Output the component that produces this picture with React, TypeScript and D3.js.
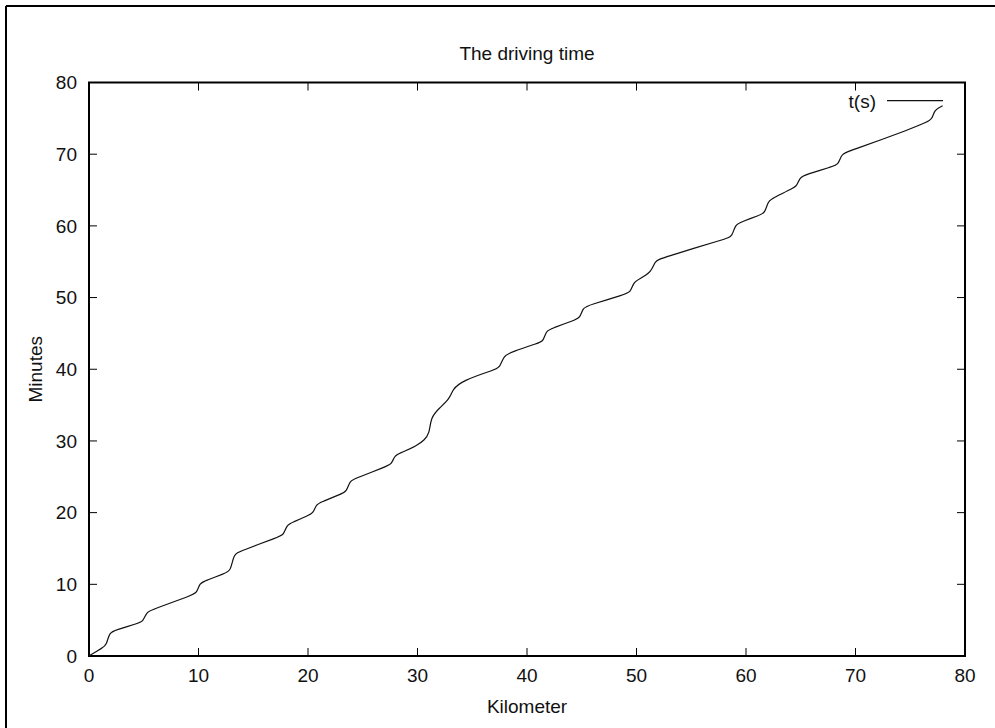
import React from "react";
import * as d3 from "d3";

const KILOMETERS = [
  0, 0, 1.25, 1.6, 1.85, 2.45, 4.4, 4.95, 5.25, 5.85, 9.3, 9.85, 10.1, 10.7, 12.4,
  12.95, 13.2, 13.8, 17.25, 17.8, 18.05, 18.6, 20.0, 20.5, 20.75, 21.3, 23.0,
  23.55, 23.8, 24.4, 27.1, 27.65, 27.9, 28.5, 30.0, 30.6, 31.1, 31.2, 32.0,
  32.95, 33.2, 34.1, 36.9, 37.55, 37.85, 38.6, 41.0, 41.5, 41.75, 42.3, 44.3,
  44.85, 45.1, 45.7, 48.9, 49.45, 49.7, 50.3, 51.4, 51.65, 52.3, 58.2, 58.75,
  59.0, 59.6, 61.2, 61.75, 62.0, 62.6, 64.1, 64.65, 64.9, 65.5, 67.9, 68.45,
  68.7, 69.3, 75.3, 76.5, 77.0, 77.2, 77.95, 77.95,
];
const MINUTES = [
  0, 0, 1.17, 1.5, 3.3, 3.6, 4.54, 4.8, 6.15, 6.49, 8.44, 8.75, 10.2, 10.53,
  11.53, 11.85, 14.2, 14.6, 16.58, 16.9, 18.3, 18.65, 19.6, 19.95, 21.2, 21.5,
  22.6, 22.95, 24.45, 24.8, 26.42, 26.75, 28.0, 28.35, 29.4, 30.1, 31.0, 33.3,
  34.6, 35.9, 37.2, 38.4, 39.87, 40.2, 41.9, 42.4, 43.65, 43.9, 45.4, 45.7,
  46.84, 47.15, 48.6, 48.95, 50.44, 50.7, 52.1, 52.6, 53.6, 55.1, 55.5, 58.24,
  58.5, 60.2, 60.55, 61.48, 61.8, 63.5, 63.95, 65.15, 65.5, 66.8, 67.15, 68.3,
  68.55, 70.0, 70.35, 73.65, 74.49, 74.85, 76.2, 76.75, 76.75,
];
const X_TICKS = [0, 10, 20, 30, 40, 50, 60, 70, 80];
const Y_TICKS = [0, 10, 20, 30, 40, 50, 60, 70, 80];
const TITLE = "The driving time";
const X_LABEL = "Kilometer";
const Y_LABEL = "Minutes";
const SERIES_NAME = "t(s)";

export default function App() {
  const W = 995;
  const H = 728;
  const left = 89, right = 965, top = 82.5, bottom = 656;
  const x = d3.scaleLinear().domain([0, 80]).range([left, right]);
  const y = d3.scaleLinear().domain([0, 80]).range([bottom, top]);
  const pts = KILOMETERS.map((k, i) => [k, MINUTES[i]] as [number, number]);
  const line = d3
    .line<[number, number]>()
    .x((d) => x(d[0]))
    .y((d) => y(d[1]))
    .curve(d3.curveBasis);
  const font = "'Liberation Sans', Arial, Helvetica, sans-serif";
  const fs = 19;
  const tickLen = 8;
  return (
    <svg
      width={W}
      height={H}
      style={{ position: "absolute", left: 0, top: 0, background: "#fff" }}
      fontFamily={font}
      fontSize={fs}
    >
      <rect x={0} y={0} width={W} height={H} fill="#fff" />
      {/* outer frame (left and top edges visible) */}
      <line x1={6} y1={6} x2={6} y2={H} stroke="#000" strokeWidth={2} />
      <line x1={6} y1={6} x2={W} y2={6} stroke="#000" strokeWidth={2} />

      {/* ticks */}
      {X_TICKS.map((t) => (
        <g key={"xt" + t}>
          <line x1={x(t)} x2={x(t)} y1={bottom} y2={bottom - tickLen} stroke="#000" strokeWidth={1} />
          <line x1={x(t)} x2={x(t)} y1={top} y2={top + tickLen} stroke="#000" strokeWidth={1} />
          <text x={x(t)} y={681.5} textAnchor="middle" fill="#111">
            {t}
          </text>
        </g>
      ))}
      {Y_TICKS.map((t) => (
        <g key={"yt" + t}>
          <line x1={left} x2={left + tickLen} y1={y(t)} y2={y(t)} stroke="#000" strokeWidth={1} />
          <line x1={right} x2={right - tickLen} y1={y(t)} y2={y(t)} stroke="#000" strokeWidth={1} />
          <text x={77} y={y(t) + 6.8} textAnchor="end" fill="#111">
            {t}
          </text>
        </g>
      ))}

      {/* plot frame */}
      <rect
        x={left}
        y={top}
        width={right - left}
        height={bottom - top}
        fill="none"
        stroke="#000"
        strokeWidth={2}
      />

      {/* data */}
      <path d={line(pts) || ""} fill="none" stroke="#111" strokeWidth={1.2} />

      {/* legend */}
      <text x={876} y={107.5} textAnchor="end" fill="#111">
        {SERIES_NAME}
      </text>
      <line x1={887} x2={943} y1={100.7} y2={100.7} stroke="#111" strokeWidth={1.2} />

      {/* titles */}
      <text x={(left + right) / 2} y={60} textAnchor="middle" fill="#111">
        {TITLE}
      </text>
      <text x={(left + right) / 2} y={713} textAnchor="middle" fill="#111">
        {X_LABEL}
      </text>
      <text
        transform={`translate(41.5, ${(top + bottom) / 2}) rotate(-90)`}
        textAnchor="middle"
        fill="#111"
      >
        {Y_LABEL}
      </text>
    </svg>
  );
}
